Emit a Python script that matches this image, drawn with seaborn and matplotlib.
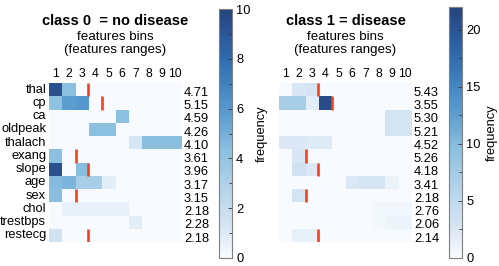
import numpy as np
import pandas as pd
import matplotlib
matplotlib.use("Agg")
import matplotlib.pyplot as plt
import seaborn as sns
from matplotlib.colors import LinearSegmentedColormap

features = ['thal', 'cp', 'ca', 'oldpeak', 'thalach', 'exang', 'slope',
            'age', 'sex', 'chol', 'trestbps', 'restecg']
bins = ['1', '2', '3', '4', '5', '6', '7', '8', '9', '10']

class0_freq = [
    [9.3, 4.3, 0, 0, 0, 0, 0, 0, 0, 0],
    [4.2, 5.8, 6.0, 0, 0, 0, 0, 0, 0, 0],
    [0, 0, 0, 0, 0, 4.3, 0, 0, 0, 0],
    [0, 0, 0, 4.3, 4.3, 0, 0, 0, 0, 0],
    [0, 0, 0, 0, 0, 0, 1.3, 4.4, 4.4, 4.4],
    [4.3, 0, 0, 0, 0, 0, 0, 0, 0, 0],
    [9.3, 0, 4.4, 0, 0, 0, 0, 0, 0, 0],
    [4.5, 4.8, 3.3, 3.3, 0.8, 0, 0, 0, 0, 0],
    [4.4, 0, 0, 0, 0, 0, 0, 0, 0, 0],
    [0, 0.6, 0.6, 0.6, 0.6, 0.6, 0, 0, 0, 0],
    [0, 0, 0, 0, 0, 0, 0.8, 0, 0, 0],
    [1.5, 0, 0, 0, 0, 0, 0, 0, 0, 0],
]
class1_freq = [
    [0, 2.6, 3.0, 0, 0, 0, 0, 0, 0, 0],
    [7.3, 7.3, 1.8, 21.0, 0, 0, 0, 0, 0, 0],
    [0, 0, 0, 0, 0, 0, 0, 0, 3.0, 3.0],
    [0, 0, 0, 0, 0, 0, 0, 0, 3.0, 3.0],
    [2.4, 2.4, 2.2, 2.2, 0, 0, 0, 0, 0, 0],
    [0, 2.8, 0, 0, 0, 0, 0, 0, 0, 0],
    [0, 3.4, 2.4, 0, 0, 0, 0, 0, 0, 0],
    [0, 0, 0, 0, 0, 2.5, 3.0, 3.0, 1.2, 0],
    [0, 3.0, 0, 0, 0, 0, 0, 0, 0, 0],
    [0, 0, 0, 0, 0, 0, 0, 0.6, 0.6, 0.6],
    [0, 0, 0, 0, 0, 0, 0, 0.5, 1.0, 1.0],
    [0, 1.3, 1.3, 0, 0, 0, 0, 0, 0, 0],
]
class0_scores = ['4.71', '5.15', '4.59', '4.26', '4.10', '3.61', '3.96',
                 '3.17', '3.15', '2.18', '2.28', '2.18']
class1_scores = ['5.43', '3.55', '5.30', '5.21', '4.52', '5.26', '4.18',
                 '3.41', '2.18', '2.76', '2.06', '2.14']
split_features = ['thal', 'cp', 'exang', 'slope', 'sex', 'restecg']
split_positions = [2.95, 4.0, 2.03, 2.95, 2.0, 2.93]
class0_vmax = 10
class1_vmax = 22
titles = ['class 0  = no disease', 'class 1 = disease']

plt.rcParams['font.family'] = ['Liberation Sans', 'DejaVu Sans']

cmap = LinearSegmentedColormap.from_list('b', [
    (0.0, '#f7fbff'), (0.12, '#d8e6f4'), (0.33, '#a8cde6'),
    (0.43, '#8cc0e0'), (0.6, '#5598cd'), (0.8, '#2f6cb0'),
    (0.93, '#2a5190'), (1.0, '#23437c')])

W, H = 499, 266
fig = plt.figure(figsize=(W / 100, H / 100), dpi=100)


def fr(x0, y0, x1, y1):
    return [x0 / W, 1 - y1 / H, (x1 - x0) / W, (y1 - y0) / H]


configs = [
    dict(data=class0_freq, scores=class0_scores, vmax=class0_vmax,
         ax=fr(49, 83, 182, 242), cax=fr(219, 9, 232, 258),
         major=2, minor=1, rowlabels=True),
    dict(data=class1_freq, scores=class1_scores, vmax=class1_vmax,
         ax=fr(279, 83, 412, 242), cax=fr(449, 7, 462, 258),
         major=5, minor=2.5, rowlabels=False),
]

for i, c in enumerate(configs):
    ax = fig.add_axes(c['ax'])
    cax = fig.add_axes(c['cax'])
    df = pd.DataFrame(c['data'], index=features, columns=bins)
    sns.heatmap(df, ax=ax, cbar_ax=cax, cmap=cmap, vmin=0, vmax=c['vmax'],
                xticklabels=True, yticklabels=c['rowlabels'],
                cbar_kws={'label': 'frequency'})
    ax.xaxis.tick_top()
    ax.tick_params(axis='x', length=0, pad=2, labelsize=8.8, rotation=0)
    ax.tick_params(axis='y', length=0, pad=2, labelsize=9.3, rotation=0)
    ax.set_xlabel('')
    ax.set_ylabel('')
    for f, p in zip(split_features, split_positions):
        r = features.index(f)
        ax.vlines(p, r, r + 1, colors='#f8401a', linewidth=1.9)
    for r, s in enumerate(c['scores']):
        ax.text(10.15, r + 0.75, s, fontsize=9.3, ha='left', va='center')
    xc = (c['ax'][0] + c['ax'][2] / 2)
    fig.text(xc, 1 - 21 / H, titles[i], ha='center', va='center',
             fontsize=10.5, fontweight='bold')
    fig.text(xc, 1 - 37 / H, 'features bins', ha='center', va='center', fontsize=9.6)
    fig.text(xc, 1 - 50 / H, '(features ranges)', ha='center', va='center', fontsize=9.6)
    cb = ax.collections[0].colorbar
    cb.outline.set_edgecolor('#7f7f7f')
    cb.outline.set_linewidth(0.8)
    cb.set_ticks(np.arange(0, c['vmax'] + 0.01, c['major']))
    cb.ax.set_yticks(np.arange(0, c['vmax'] + 0.01, c['minor']), minor=True)
    cax.tick_params(which='both', direction='in', length=3, width=0.6,
                    labelsize=9.3, pad=3, color='#333333')
    cax.tick_params(which='minor', length=2)
    cb.set_label('frequency', fontsize=9.3, labelpad=4)

fig.savefig('out.png', dpi=100)
